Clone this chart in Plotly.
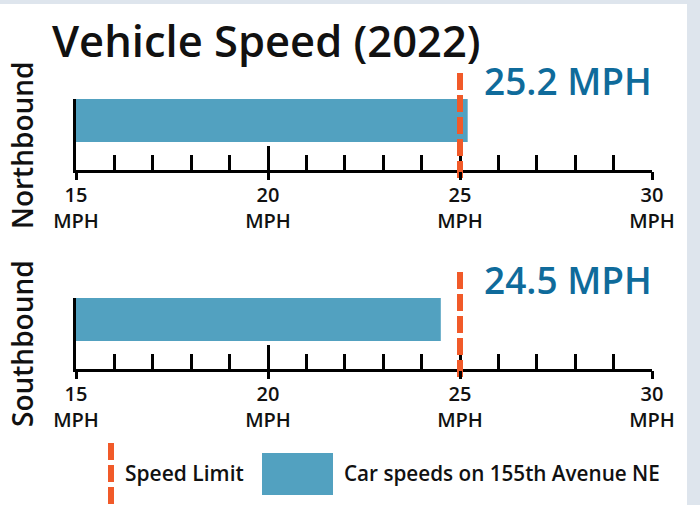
import plotly.graph_objects as go

# ---------------- data ----------------
directions = ["Northbound", "Southbound"]
avg_speeds = [25.2, 24.5]          # MPH
speed_limit = 25                   # MPH
axis_ticks = [15, 20, 25, 30]
tick_labels = ["15<br>MPH", "20<br>MPH", "25<br>MPH", "30<br>MPH"]
axis_range = [15, 30]
title_text = "Vehicle Speed (2022)"
legend_labels = ["Speed Limit", "Car speeds on 155th Avenue NE"]

# ---------------- style ----------------
W, H = 700, 505
L, R = 76, 48
FONT = "Open Sans"
BAR = "#52a1c0"
ORANGE = "#f15a29"
BLUE = "#0f6b9b"
INK = "#111111"
BG = "#dee5ed"
DASH = "17px,5px"
TICK_FONT = dict(family=FONT, size=20, color=INK, weight=600)


def py(p):
    return 1 - p / H


def px(p):
    return (p - L) / (W - L - R)


fig = go.Figure()
layout = {}
annotations = []
shapes = []

# white card
shapes.append(dict(type="rect", xref="paper", yref="paper",
                   x0=px(0), x1=px(687), y0=py(H + 5), y1=py(4),
                   fillcolor="white", line=dict(width=0), layer="below"))

panel_tops = [99, 298]   # pixel top of each bar
BAR_PX = 43
AXIS_GAP = 72            # bar top -> axis line centre

for i, (name, val, top) in enumerate(zip(directions, avg_speeds, panel_tops)):
    n = 2 * i
    xa, ya = f"x{n + 1 if n else ''}", f"y{n + 1 if n else ''}"
    xb, yb = f"x{n + 2}", f"y{n + 2}"
    axis_y = top + AXIS_GAP
    dom_bottom = axis_y - 1.5
    dom_len = dom_bottom - top

    # bar subplot
    fig.add_trace(go.Bar(x=[val], y=[name], orientation="h", width=1,
                         marker=dict(color=BAR, line=dict(width=0)),
                         xaxis=xa, yaxis=ya, hoverinfo="skip", showlegend=False))
    layout[f"xaxis{n + 1 if n else ''}"] = dict(
        domain=[0, 1], range=axis_range, anchor=ya, fixedrange=True,
        showline=True, linecolor="black", linewidth=3,
        tickmode="linear", tick0=axis_ticks[0], dtick=5,
        ticks="inside", ticklen=24, tickwidth=3, tickcolor="black",
        minor=dict(ticks="inside", ticklen=15, tickwidth=3, tickcolor="black",
                   dtick=1, showgrid=False),
        showticklabels=False, showgrid=False, zeroline=False)
    layout[f"yaxis{n + 1 if n else ''}"] = dict(
        domain=[py(dom_bottom), py(top)], anchor=xa, type="category",
        range=[0.5 - dom_len / BAR_PX, 0.5], fixedrange=True,
        showline=True, linecolor="black", linewidth=3,
        ticks="", showticklabels=False, showgrid=False, zeroline=False)

    # speed-limit line subplot (also carries the labelled outer ticks)
    fig.add_trace(go.Scatter(x=[speed_limit, speed_limit], y=[1, 0], mode="lines",
                             line=dict(color=ORANGE, width=6, dash=DASH),
                             xaxis=xb, yaxis=yb, hoverinfo="skip", showlegend=False))
    layout[f"xaxis{n + 2}"] = dict(
        domain=[0, 1], range=axis_range, anchor="free", position=py(axis_y),
        fixedrange=True, showline=False, showgrid=False, zeroline=False,
        tickmode="array", tickvals=axis_ticks, ticktext=tick_labels,
        ticks="outside", ticklen=8, tickwidth=3, tickcolor="black",
        ticklabelstandoff=-2, tickfont=TICK_FONT)
    layout[f"yaxis{n + 2}"] = dict(
        domain=[py(axis_y + 8), py(top - 26)], range=[0, 1], anchor=xb,
        visible=False, fixedrange=True)

    # value label
    annotations.append(dict(xref="paper", yref="paper", x=px(482), y=py(top - 19),
                            xanchor="left", yanchor="middle", showarrow=False,
                            text=f"{val} MPH",
                            font=dict(family=FONT, size=37, color=BLUE, weight=600)))
    # direction label
    annotations.append(dict(xref="paper", yref="paper", x=px(22), y=py(top + 46),
                            xanchor="center", yanchor="middle", showarrow=False,
                            textangle=-90, text=name,
                            font=dict(family=FONT, size=28, color=INK, weight=600)))

# legend (drawn manually)
shapes.append(dict(type="line", xref="paper", yref="paper",
                   x0=px(111), x1=px(111), y0=py(443), y1=py(H + 10),
                   line=dict(color=ORANGE, width=6, dash=DASH)))
shapes.append(dict(type="rect", xref="paper", yref="paper",
                   x0=px(262), x1=px(333), y0=py(495), y1=py(453),
                   fillcolor=BAR, line=dict(width=0)))
annotations.append(dict(xref="paper", yref="paper", x=px(123), y=py(473),
                        xanchor="left", yanchor="middle", showarrow=False,
                        text=legend_labels[0],
                        font=dict(family=FONT, size=21, color=INK, weight=600)))
annotations.append(dict(xref="paper", yref="paper", x=px(342), y=py(473),
                        xanchor="left", yanchor="middle", showarrow=False,
                        text=legend_labels[1],
                        font=dict(family=FONT, size=20.7, color=INK, weight=600)))

fig.update_layout(
    width=W, height=H, autosize=False,
    margin=dict(l=L, r=R, t=0, b=0, pad=0),
    paper_bgcolor=BG, plot_bgcolor="rgba(0,0,0,0)",
    showlegend=False,
    title=dict(text=title_text, x=52 / W, xanchor="left", y=1 - 42 / H,
               yanchor="middle",
               font=dict(family=FONT, size=43.5, color=INK, weight=600)),
    annotations=annotations, shapes=shapes,
    font=dict(family=FONT),
    **layout,
)

fig.write_html("out.html",
               config={"displayModeBar": False, "staticPlot": True},
               post_script="document.body.style.margin='0';"
                           "document.body.style.overflow='hidden';")
